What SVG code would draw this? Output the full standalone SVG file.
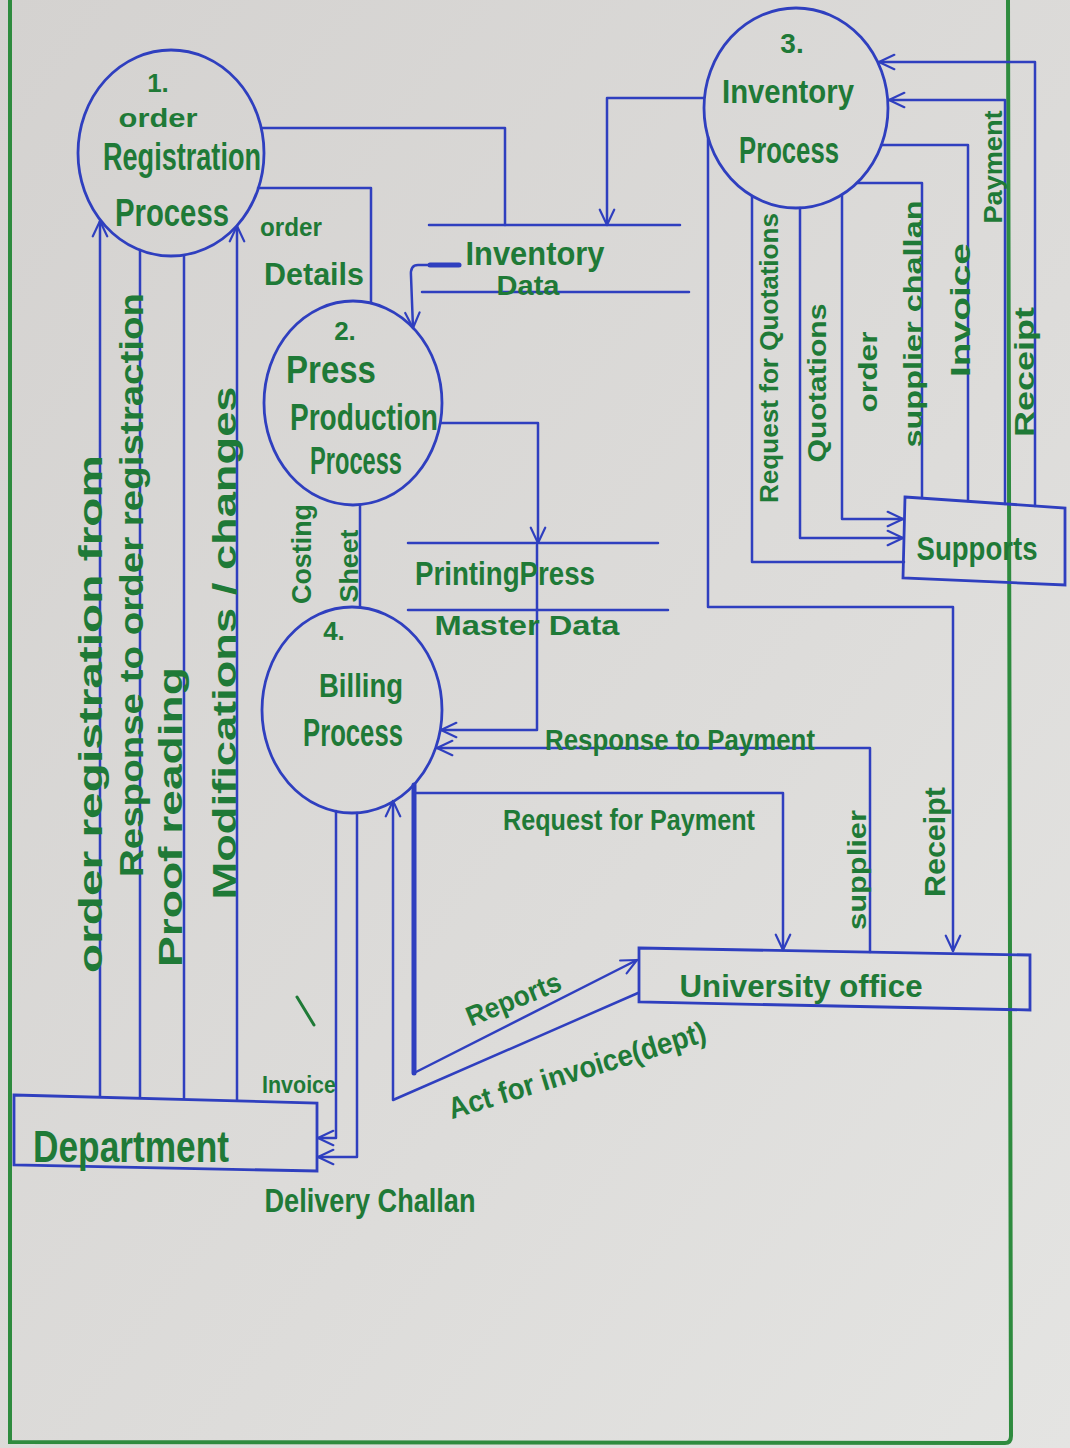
<svg xmlns="http://www.w3.org/2000/svg" width="1070" height="1448" viewBox="0 0 1070 1448">
<defs>
  <linearGradient id="paper" x1="0" y1="0" x2="1" y2="1">
    <stop offset="0" stop-color="#d4d2d0"/>
    <stop offset="0.6" stop-color="#dddcda"/>
    <stop offset="1" stop-color="#e4e4e2"/>
  </linearGradient>
  <marker id="arr" viewBox="0 0 20 20" refX="19" refY="10" markerWidth="18" markerHeight="18" markerUnits="userSpaceOnUse" orient="auto">
    <path d="M2,2 L19,10 L2,18" fill="none" stroke="#2f3fbf" stroke-width="2.4" stroke-linecap="round" stroke-linejoin="round"/>
  </marker>
  <style>
    .ln{fill:none;stroke:#2f3fbf;stroke-width:2.5;stroke-linejoin:round;stroke-linecap:round}
    .thick{fill:none;stroke:#2f3fbf;stroke-width:5;stroke-linecap:round}
    .node{fill:none;stroke:#2f3fbf;stroke-width:2.8}
    .t{font-family:"Liberation Sans","DejaVu Sans",sans-serif;font-weight:bold;fill:#1f7a37;text-anchor:middle}
    .border{fill:none;stroke:#2e8b3e;stroke-width:4;stroke-linecap:round}
  </style>
</defs>
<rect x="0" y="0" width="1070" height="1448" fill="url(#paper)"/>
<path class="border" d="M10,0 L10,1442 L1005,1443 Q1011,1443 1011,1436 L1008,0"/>

<g id="connectors">
  <path class="ln" d="M100,1096 L100,221" marker-end="url(#arr)"/>
  <path class="ln" d="M140,250 L140,1097"/>
  <path class="ln" d="M184,256 L184,1098"/>
  <path class="ln" d="M237,1100 L237,226" marker-end="url(#arr)"/>
  <path class="ln" d="M262,128 H505 V225"/>
  <path class="ln" d="M258,188 H371 V303"/>
  <path class="thick" d="M459,265 H430"/>
  <path class="ln" d="M430,265 H418 Q410,265 411,276 L413,328" marker-end="url(#arr)"/>
  <path class="ln" d="M704,98 H607 V225" marker-end="url(#arr)"/>
  <path class="ln" d="M441,423 H538 V543" marker-end="url(#arr)"/>
  <path class="ln" d="M537,545 V730 H441" marker-end="url(#arr)"/>
  <path class="ln" d="M870,952 V748 H437" marker-end="url(#arr)"/>
  <path class="ln" d="M414,793 H783 V950" marker-end="url(#arr)"/>
  <path class="thick" d="M414,785 V1073"/>
  <path class="ln" d="M414,1073 L637,960" marker-end="url(#arr)"/>
  <path class="ln" d="M638,993 L393,1100 V801" marker-end="url(#arr)"/>
  <path class="ln" d="M336,811 V1138 H318" marker-end="url(#arr)"/>
  <path class="ln" d="M357,813 V1157 H318" marker-end="url(#arr)"/>
  <path class="ln" d="M708,137 V607 H953 V951" marker-end="url(#arr)"/>
  <path class="ln" d="M752,196 V562 H904"/>
  <path class="ln" d="M800,208 V538 H903" marker-end="url(#arr)"/>
  <path class="ln" d="M842,195 V519 H903" marker-end="url(#arr)"/>
  <path class="ln" d="M857,183 H922 V498"/>
  <path class="ln" d="M881,145 H968 V501"/>
  <path class="ln" d="M1005,504 V100 H889" marker-end="url(#arr)"/>
  <path class="ln" d="M1035,506 V62 H879" marker-end="url(#arr)"/>
  <path class="ln" d="M360,505 V607"/>
  <path d="M297,997 L314,1025" fill="none" stroke="#1f7a37" stroke-width="3" stroke-linecap="round"/>
</g>

<g id="p1">
  <ellipse class="node" cx="171" cy="153" rx="93" ry="103"/>
  <text class="t" x="158" y="92" font-size="26">1.</text>
  <text class="t" x="158" y="127" font-size="26" textLength="79" lengthAdjust="spacingAndGlyphs">order</text>
  <text class="t" x="182" y="170" font-size="38" textLength="158" lengthAdjust="spacingAndGlyphs">Registration</text>
  <text class="t" x="172" y="226" font-size="38" textLength="114" lengthAdjust="spacingAndGlyphs">Process</text>
</g>

<g id="p2">
  <ellipse class="node" cx="353" cy="403" rx="89" ry="102"/>
  <text class="t" x="345" y="340" font-size="26">2.</text>
  <text class="t" x="331" y="383" font-size="38" textLength="90" lengthAdjust="spacingAndGlyphs">Press</text>
  <text class="t" x="364" y="430" font-size="36" textLength="148" lengthAdjust="spacingAndGlyphs">Production</text>
  <text class="t" x="356" y="474" font-size="38" textLength="92" lengthAdjust="spacingAndGlyphs">Process</text>
</g>

<g id="p3">
  <ellipse class="node" cx="796" cy="108" rx="92" ry="100"/>
  <text class="t" x="792" y="53" font-size="28">3.</text>
  <text class="t" x="788" y="103" font-size="34" textLength="132" lengthAdjust="spacingAndGlyphs">Inventory</text>
  <text class="t" x="789" y="163" font-size="36" textLength="100" lengthAdjust="spacingAndGlyphs">Process</text>
</g>

<g id="p4">
  <ellipse class="node" cx="352" cy="710" rx="90" ry="103"/>
  <text class="t" x="334" y="640" font-size="26">4.</text>
  <text class="t" x="361" y="697" font-size="34" textLength="84" lengthAdjust="spacingAndGlyphs">Billing</text>
  <text class="t" x="353" y="746" font-size="38" textLength="100" lengthAdjust="spacingAndGlyphs">Process</text>
</g>

<g id="inventory-data">
  <path class="ln" d="M429,225 H680 M422,292 H689"/>
  <text class="t" x="535" y="265" font-size="34" textLength="139" lengthAdjust="spacingAndGlyphs">Inventory</text>
  <text class="t" x="528" y="295" font-size="28" textLength="63" lengthAdjust="spacingAndGlyphs">Data</text>
</g>

<g id="printing-press-master-data">
  <path class="ln" d="M408,543 H658 M408,610 H668"/>
  <text class="t" x="505" y="585" font-size="34" textLength="180" lengthAdjust="spacingAndGlyphs">PrintingPress</text>
  <text class="t" x="527" y="635" font-size="28" textLength="185" lengthAdjust="spacingAndGlyphs">Master Data</text>
</g>

<g id="department">
  <path class="node" d="M14,1095 L317,1103 L317,1171 L14,1165 Z"/>
  <text class="t" x="131" y="1162" font-size="44" textLength="196" lengthAdjust="spacingAndGlyphs">Department</text>
</g>

<g id="supports">
  <path class="node" d="M905,497 L1065,508 L1065,585 L903,578 Z"/>
  <text class="t" x="977" y="560" font-size="34" textLength="121" lengthAdjust="spacingAndGlyphs">Supports</text>
</g>

<g id="university-office">
  <path class="node" d="M639,948 L1030,955 L1030,1010 L639,1002 Z"/>
  <text class="t" x="801" y="997" font-size="32" textLength="243" lengthAdjust="spacingAndGlyphs">University office</text>
</g>

<g id="labels">
  <text class="t" transform="translate(102,714) rotate(-90)" font-size="34" textLength="518" lengthAdjust="spacingAndGlyphs">order registration from</text>
  <text class="t" transform="translate(143,585) rotate(-90)" font-size="34" textLength="584" lengthAdjust="spacingAndGlyphs">Response to order registraction</text>
  <text class="t" transform="translate(182,817) rotate(-90)" font-size="34" textLength="300" lengthAdjust="spacingAndGlyphs">Proof reading</text>
  <text class="t" transform="translate(236,643) rotate(-90)" font-size="34" textLength="513" lengthAdjust="spacingAndGlyphs">Modifications / changes</text>
  <text class="t" x="291" y="236" font-size="26" textLength="62" lengthAdjust="spacingAndGlyphs">order</text>
  <text class="t" x="314" y="285" font-size="31" textLength="100" lengthAdjust="spacingAndGlyphs">Details</text>
  <text class="t" transform="translate(311,554) rotate(-90)" font-size="28" textLength="100" lengthAdjust="spacingAndGlyphs">Costing</text>
  <text class="t" transform="translate(358,566) rotate(-90)" font-size="26" textLength="73" lengthAdjust="spacingAndGlyphs">Sheet</text>
  <text class="t" transform="translate(778,358) rotate(-90)" font-size="26" textLength="290" lengthAdjust="spacingAndGlyphs">Request for Quotations</text>
  <text class="t" transform="translate(826,383) rotate(-90)" font-size="26" textLength="159" lengthAdjust="spacingAndGlyphs">Quotations</text>
  <text class="t" transform="translate(877,372) rotate(-90)" font-size="26" textLength="81" lengthAdjust="spacingAndGlyphs">order</text>
  <text class="t" transform="translate(922,324) rotate(-90)" font-size="26" textLength="247" lengthAdjust="spacingAndGlyphs">supplier challan</text>
  <text class="t" transform="translate(970,310) rotate(-90)" font-size="28" textLength="134" lengthAdjust="spacingAndGlyphs">Invoice</text>
  <text class="t" transform="translate(1002,167) rotate(-90)" font-size="26" textLength="113" lengthAdjust="spacingAndGlyphs">Payment</text>
  <text class="t" transform="translate(1034,372) rotate(-90)" font-size="28" textLength="130" lengthAdjust="spacingAndGlyphs">Receipt</text>
  <text class="t" x="680" y="750" font-size="30" textLength="270" lengthAdjust="spacingAndGlyphs">Response to Payment</text>
  <text class="t" x="629" y="830" font-size="30" textLength="252" lengthAdjust="spacingAndGlyphs">Request for Payment</text>
  <text class="t" transform="translate(866,870) rotate(-90)" font-size="26" textLength="120" lengthAdjust="spacingAndGlyphs">supplier</text>
  <text class="t" transform="translate(945,842) rotate(-90)" font-size="30" textLength="110" lengthAdjust="spacingAndGlyphs">Receipt</text>
  <text class="t" transform="translate(517,1008) rotate(-22)" font-size="28" textLength="100" lengthAdjust="spacingAndGlyphs">Reports</text>
  <text class="t" transform="translate(580,1080) rotate(-17)" font-size="30" textLength="268" lengthAdjust="spacingAndGlyphs">Act for invoice(dept)</text>
  <text class="t" x="299" y="1093" font-size="24" textLength="74" lengthAdjust="spacingAndGlyphs">Invoice</text>
  <text class="t" x="370" y="1212" font-size="34" textLength="211" lengthAdjust="spacingAndGlyphs">Delivery Challan</text>
</g>
</svg>
